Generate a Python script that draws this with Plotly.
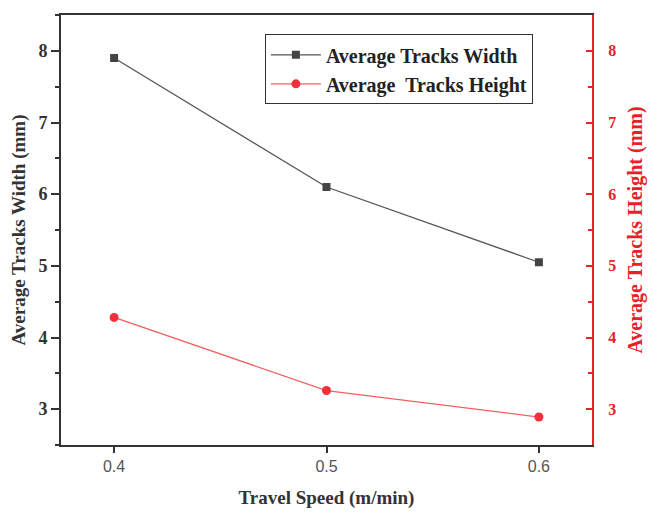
import plotly.graph_objects as go

speed = [0.4, 0.5, 0.6]
avg_width = [7.9, 6.1, 5.05]
avg_height = [4.28, 3.26, 2.89]
y_ticks = [3, 4, 5, 6, 7, 8]
x_ticks = [0.4, 0.5, 0.6]

serif = "Liberation Serif"
red = "#e8202a"
dark = "#333333"

fig = go.Figure()
fig.add_trace(go.Scatter(
    x=speed, y=avg_width, name="Average Tracks Width",
    mode="lines+markers",
    line=dict(color="#555555", width=1.3),
    marker=dict(symbol="square", size=8, color="#444444"),
))
fig.add_trace(go.Scatter(
    x=speed, y=avg_height, name="Average\u00a0 Tracks Height",
    mode="lines+markers", yaxis="y2",
    line=dict(color="#f06060", width=1.3),
    marker=dict(symbol="circle", size=9, color="#f0303a"),
))
# invisible helper trace so the labelled right axis (y3) is drawn
fig.add_trace(go.Scatter(
    x=speed, y=avg_height, yaxis="y3", mode="markers",
    marker=dict(opacity=0), showlegend=False, hoverinfo="skip",
))

fig.update_layout(
    width=651, height=512,
    margin=dict(l=61, r=59, t=15, b=67, autoexpand=False),
    plot_bgcolor="white", paper_bgcolor="white",
    showlegend=True,
    legend=dict(
        x=0.384, y=0.955, xanchor="left", yanchor="top",
        bordercolor=dark, borderwidth=1, bgcolor="white",
        font=dict(family=serif, size=20, color="#222222", weight="bold"),
        tracegroupgap=0, itemwidth=50,
    ),
    xaxis=dict(
        range=[0.375, 0.625], tickvals=x_ticks, ticktext=[str(v) for v in x_ticks],
        showgrid=False, zeroline=False, automargin=False,
        showline=True, linecolor=dark, linewidth=2, mirror=True,
        ticks="outside", ticklen=6, tickcolor=dark, tickwidth=1.5,
        tickfont=dict(family="Liberation Sans", size=16, color="#555555"),
        title=dict(text="Travel Speed (m/min)", standoff=16,
                   font=dict(family=serif, size=19, color=dark, weight="bold")),
    ),
    yaxis=dict(
        range=[2.5, 8.5], tickvals=y_ticks,
        showgrid=False, zeroline=False, automargin=False,
        showline=True, linecolor=dark, linewidth=2,
        ticks="outside", ticklen=8, tickcolor=dark, tickwidth=1.5,
        minor=dict(ticks="outside", dtick=0.5, ticklen=4, tickcolor=dark),
        tickfont=dict(family=serif, size=18, color=dark, weight="bold"),
        title=dict(text="Average Tracks Width (mm)", standoff=8,
                   font=dict(family=serif, size=19, color=dark, weight="bold")),
    ),
    # red right axis: line + inward ticks (no labels)
    yaxis2=dict(
        range=[2.5, 8.5], tickvals=y_ticks, overlaying="y", side="right",
        showgrid=False, zeroline=False, automargin=False,
        showline=True, linecolor=red, linewidth=2,
        ticks="inside", ticklen=6, tickcolor=red, tickwidth=1.5,
        minor=dict(ticks="inside", dtick=0.5, ticklen=4, tickcolor=red),
        showticklabels=False,
    ),
    # red right axis labels and title, offset from the line
    yaxis3=dict(
        range=[2.5, 8.5], tickvals=y_ticks, overlaying="y", side="right",
        anchor="x", showgrid=False, zeroline=False, automargin=False,
        showline=False,
        ticks="outside", ticklen=12, tickcolor="rgba(0,0,0,0)",
        tickfont=dict(family=serif, size=16, color=red, weight="bold"),
        title=dict(text="Average Tracks Height (mm)", standoff=12,
                   font=dict(family=serif, size=20, color=red, weight="bold")),
    ),
)

fig.write_html("out.html")
